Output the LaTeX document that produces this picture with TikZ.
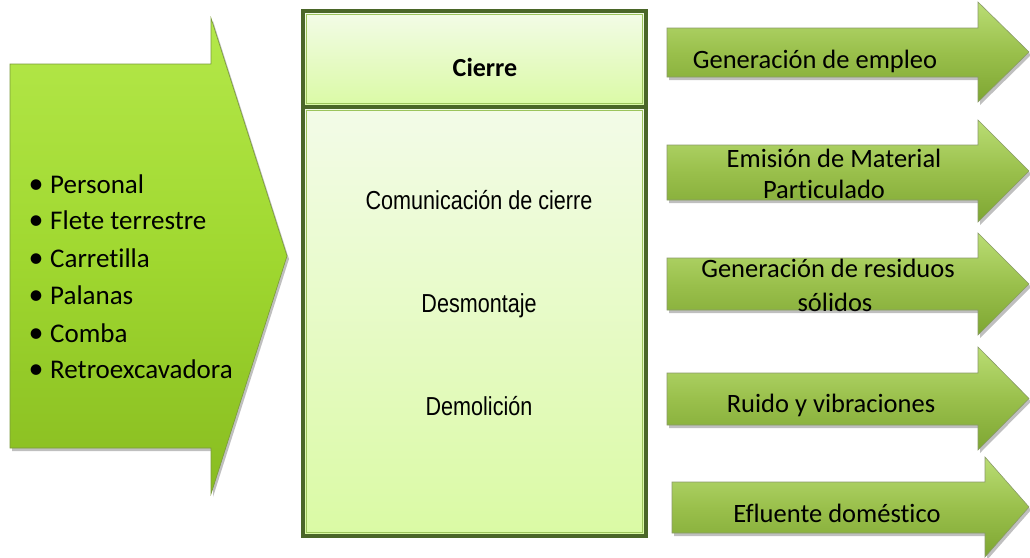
\documentclass[tikz,border=0pt]{standalone}
\usepackage{fontspec}
\setmainfont{Carlito}[Ligatures=NoCommon]
\newfontfamily\arialn[FakeStretch=0.83]{Liberation Sans}
\usetikzlibrary{shadows}
\definecolor{lTop}{HTML}{B4E84A}
\definecolor{lMid}{HTML}{A0D830}
\definecolor{lBot}{HTML}{88BC20}
\definecolor{lEdge}{HTML}{7A9A3A}
\definecolor{rTop}{HTML}{BADD74}
\definecolor{rMid}{HTML}{9AC04C}
\definecolor{rBot}{HTML}{7EA632}
\definecolor{rEdge}{HTML}{8A9A6A}
\definecolor{bTop}{HTML}{F3FBE8}
\definecolor{bBot}{HTML}{DAFAA4}
\definecolor{bEdge}{HTML}{4A6628}
\definecolor{bInner}{HTML}{9CC45C}
\tikzset{
  leftarr/.style={top color=lTop, bottom color=lBot, middle color=lMid, draw=lEdge, line width=0.6pt,
    drop shadow={shadow xshift=2pt, shadow yshift=-3pt, opacity=0.25, fill=black}},
  rightarr/.style={top color=rTop, bottom color=rBot, middle color=rMid, draw=rEdge, line width=0.6pt,
    drop shadow={shadow xshift=2pt, shadow yshift=-3pt, opacity=0.25, fill=black}},
  boxpart/.style={top color=bTop, bottom color=bBot, draw=bEdge, line width=4pt},
  innerline/.style={draw=bInner, line width=1pt},
  listtxt/.style={anchor=base west, inner sep=0pt, font=\fontsize{27}{32}\selectfont},
  bul/.style={anchor=base, inner sep=0pt, font=\fontsize{30}{32}\selectfont},
  outtxt/.style={anchor=base, inner sep=0pt, font=\fontsize{26.5}{32}\selectfont},
  boxtxt/.style={anchor=base, inner sep=0pt, font=\arialn\fontsize{26}{30}\selectfont},
}
\newcommand\greenarrow[6]{%
  \path[rightarr] (#1,#2) -- (#4,#2) -- (#4,#5) -- (1029,{(#5+#6)/2}) -- (#4,#6) -- (#4,#3) -- (#1,#3) -- cycle;}
\begin{document}
\begin{tikzpicture}[x=1pt,y=-1pt]
\useasboundingbox (0,0) rectangle (1030,557);
% left input arrow
\path[leftarr] (10,64) -- (211,64) -- (211,18) -- (287,256) -- (211,494) -- (211,448) -- (10,448) -- cycle;
\foreach \t/\yy [count=\i] in {Personal/193, Flete terrestre/229, Carretilla/267, Palanas/304, Comba/342, Retroexcavadora/378}{
  \node[bul] (b\i) at (36,\yy) {•};
  \node[listtxt] (l\i) at (50,\yy) {\t};
}
% central box
\path[boxpart] (303,107) rectangle (646,536);
\path[boxpart] (303,11) rectangle (646,107);
\draw[innerline] (306.5,110.5) rectangle (642.5,532.5);
\draw[innerline] (306.5,14.5) rectangle (642.5,103.5);
\node[anchor=base, inner sep=0pt, font=\bfseries\fontsize{26}{30}\selectfont] (cierre) at (485,76) {Cierre};
\node[boxtxt] (com) at (479,209) {Comunicación de cierre};
\node[boxtxt] (des) at (479,312) {Desmontaje};
\node[boxtxt] (dem) at (479,415) {Demolición};
% output arrows
\greenarrow{667}{28}{77}{978}{2}{102}
\greenarrow{667}{145}{200}{978}{120}{222}
\greenarrow{667}{258}{310}{978}{233}{335}
\greenarrow{667}{373}{425}{978}{347}{450}
\greenarrow{672}{482}{533}{985}{457}{557}
\node[outtxt] (o1) at (815,68) {Generación de empleo};
\node[outtxt] (o2a) at (834,167) {Emisión de Material};
\node[outtxt] (o2b) at (824,198) {Particulado};
\node[outtxt] (o3a) at (828,277) {Generación de residuos};
\node[outtxt] (o3b) at (835,311) {sólidos};
\node[outtxt] (o4) at (831,412) {Ruido y vibraciones};
\node[outtxt] (o5) at (837,522) {Efluente doméstico};
\end{tikzpicture}
\end{document}
